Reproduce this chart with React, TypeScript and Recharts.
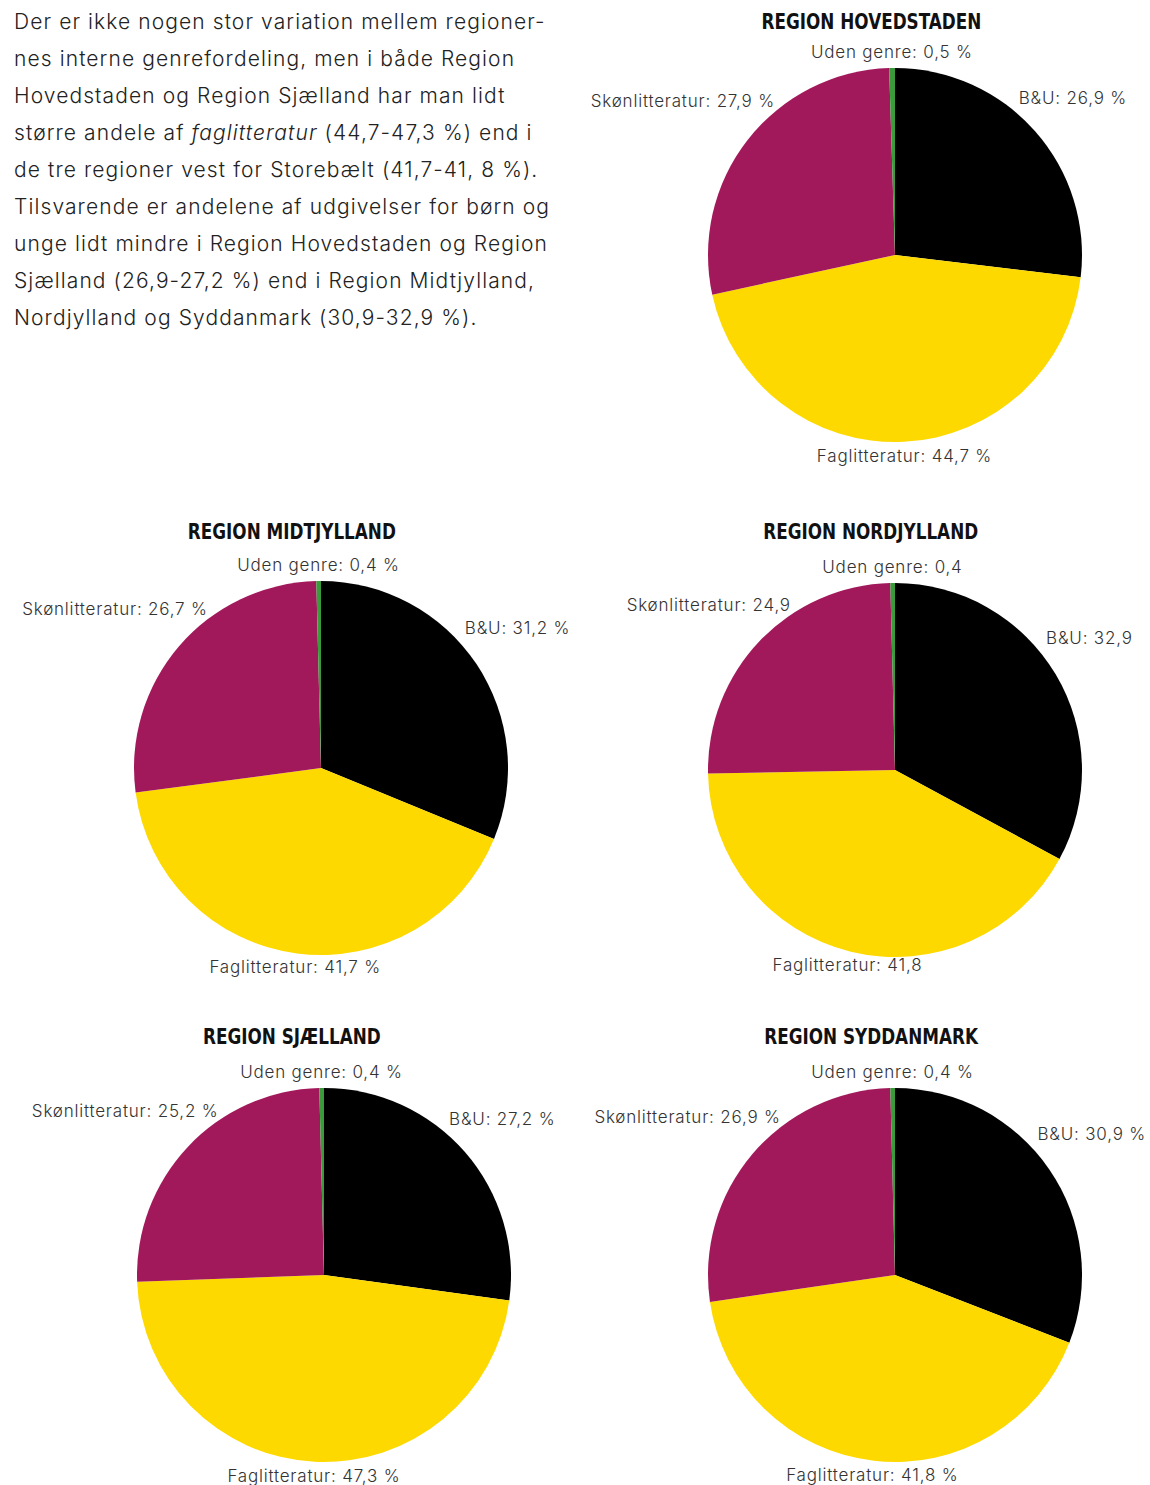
import React from 'react';
import { PieChart, Pie, Cell } from 'recharts';

const regions = ['REGION HOVEDSTADEN', 'REGION MIDTJYLLAND', 'REGION NORDJYLLAND', 'REGION SJÆLLAND', 'REGION SYDDANMARK'];
const genres = ['B&U', 'Faglitteratur', 'Skønlitteratur', 'Uden genre'];
const bu = [26.9, 31.2, 32.9, 27.2, 30.9];
const faglit = [44.7, 41.7, 41.8, 47.3, 41.8];
const skoen = [27.9, 26.7, 24.9, 25.2, 26.9];
const uden = [0.5, 0.4, 0.4, 0.4, 0.4];
const units = [' %', ' %', '', ' %', ' %'];

const COLORS = ['#000000', '#FDD900', '#A2195B', '#3A9B3A'];
const RAD = Math.PI / 180;
const R = 187;

// box positions on the page and pie centre inside the box (recharts adds a 5px margin)
const layout = [
  { left: 579, top: 0, cx: 311, cy: 250 },
  { left: 0, top: 510, cx: 316, cy: 253 },
  { left: 579, top: 510, cx: 311, cy: 255 },
  { left: 0, top: 1015, cx: 319, cy: 255 },
  { left: 579, top: 1015, cx: 311, cy: 255 },
];

const fmt = (v: number) => v.toFixed(1).replace('.', ',');

function makeLabel(unit: string) {
  return (props: any) => {
    const { cx, cy, midAngle, outerRadius, name, value } = props;
    // clockwise angle from 12 o'clock
    let t = (90 - midAngle) % 360;
    if (t < 0) t += 360;
    let anchor: 'start' | 'middle' | 'end' = 'middle';
    let rr = outerRadius + 16;
    let dx = 0;
    if (t < 25 || t > 335) {
      rr = outerRadius + 16;
    } else if (Math.abs(t - 180) < 25) {
      rr = outerRadius + 14;
    } else if (t < 180) {
      t = t - 12;
      rr = outerRadius + 8;
      dx = 8;
      anchor = 'start';
    } else {
      t = t + 14;
      rr = outerRadius + 8;
      anchor = 'end';
    }
    const x = cx + rr * Math.sin(t * RAD) + dx;
    const y = cy - rr * Math.cos(t * RAD);
    return (
      <text x={x} y={y} textAnchor={anchor} dominantBaseline="central" fill="#333" fontSize={17}
        letterSpacing={0.8} fontFamily="Inter, 'DejaVu Sans', sans-serif" fontWeight={300}>
        {`${name}: ${fmt(value)}${unit}`}
      </text>
    );
  };
}

function RegionPie({ i }: { i: number }) {
  const data = genres.map((g, k) => ({ name: g, value: [bu, faglit, skoen, uden][k][i] }));
  const pos = layout[i];
  return (
    <div style={{ position: 'absolute', left: pos.left, top: pos.top, width: 575, height: 470 }}>
      <div style={{ position: 'absolute', left: 0, top: 10, width: 584, textAlign: 'center' }}>
        <span style={{ display: 'inline-block', transform: 'scaleX(0.89)', fontFamily: "'Liberation Sans Narrow', 'DejaVu Sans Condensed', sans-serif", fontWeight: 700, fontSize: 21, color: '#111' }}>
          {regions[i]}
        </span>
      </div>
      <div style={{ position: 'absolute', left: 0, top: 0 }}>
        <PieChart width={575} height={470}>
          <Pie data={data} dataKey="value" nameKey="name" cx={pos.cx} cy={pos.cy} outerRadius={R}
            startAngle={90} endAngle={-270} stroke="none" isAnimationActive={false}
            labelLine={false} label={makeLabel(units[i])}>
            {data.map((d, k) => <Cell key={d.name} fill={COLORS[k]} />)}
          </Pie>
        </PieChart>
      </div>
    </div>
  );
}

const bodyLines = [
  'Der er ikke nogen stor variation mellem regioner-',
  'nes interne genrefordeling, men i både Region',
  'Hovedstaden og Region Sjælland har man lidt',
  null,
  'de tre regioner vest for Storebælt (41,7-41, 8 %).',
  'Tilsvarende er andelene af udgivelser for børn og',
  'unge lidt mindre i Region Hovedstaden og Region',
  'Sjælland (26,9-27,2 %) end i Region Midtjylland,',
  'Nordjylland og Syddanmark (30,9-32,9 %).',
];

export default function App() {
  return (
    <div style={{ position: 'absolute', left: 0, top: 0, width: 1150, height: 1485, background: '#fff', overflow: 'hidden' }}>
      <div style={{ position: 'absolute', left: 14, top: 3, fontFamily: "Inter, 'DejaVu Sans', sans-serif", fontWeight: 300, fontSize: 21, letterSpacing: 1.1, lineHeight: '37px', color: '#222', whiteSpace: 'pre' }}>
        {bodyLines.map((l, k) => (
          <div key={k}>
            {l ?? <>større andele af <i>faglitteratur</i> (44,7-47,3 %) end i</>}
          </div>
        ))}
      </div>
      {regions.map((_, i) => <RegionPie key={i} i={i} />)}
    </div>
  );
}
